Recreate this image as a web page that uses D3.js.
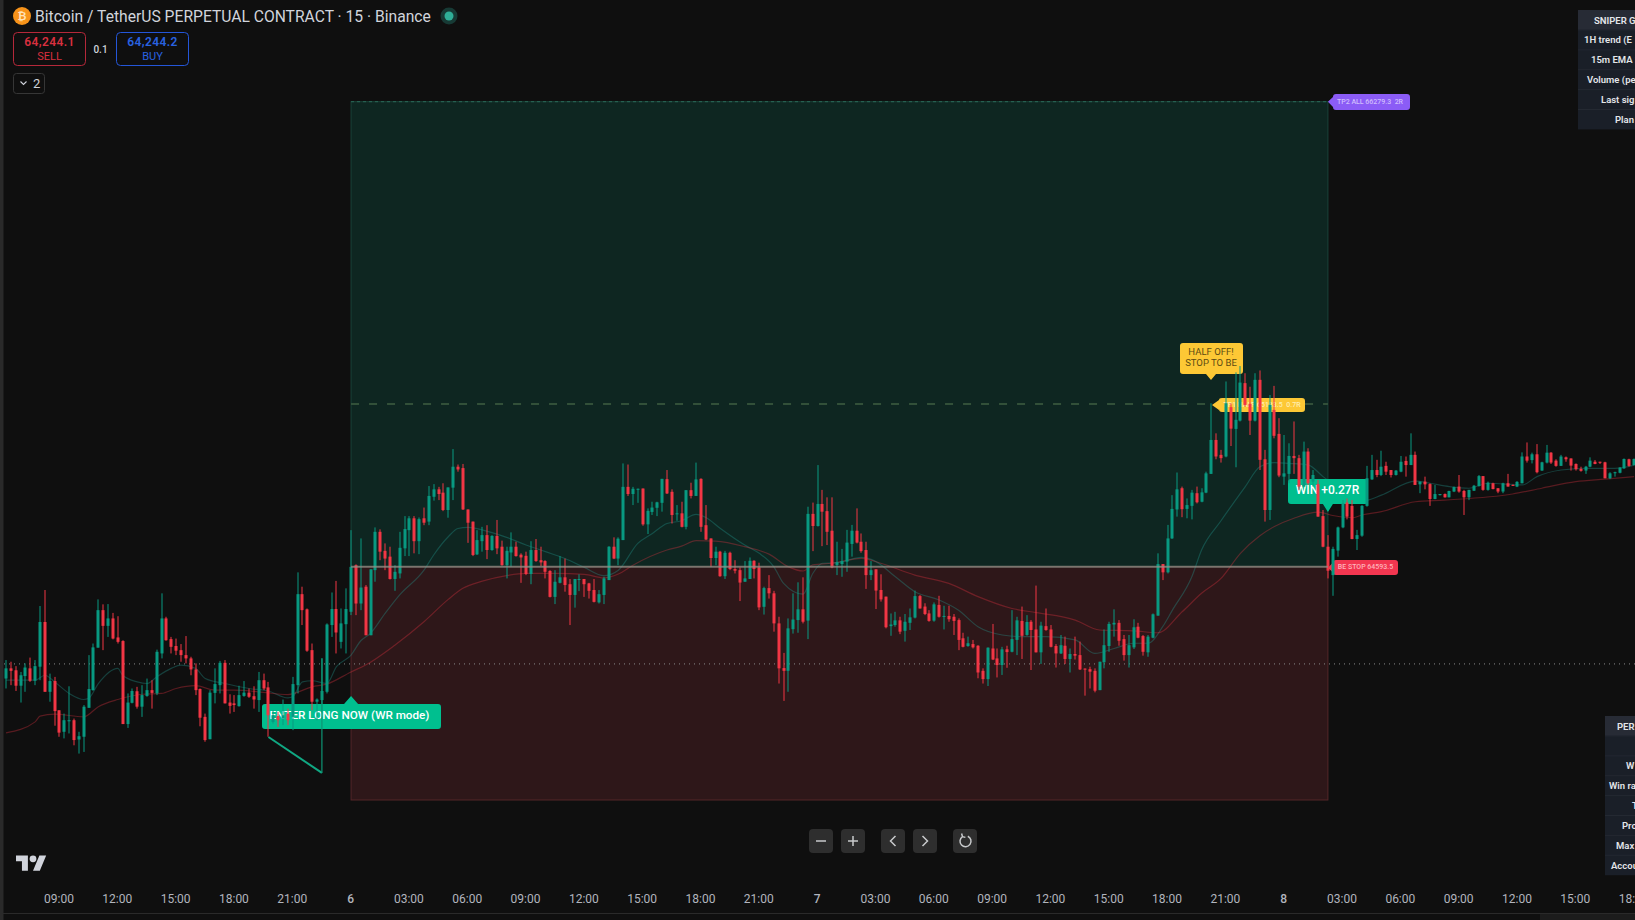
<!DOCTYPE html>
<html>
<head>
<meta charset="utf-8">
<title>BTCUSDT 15m</title>
<script src="https://cdn.jsdelivr.net/npm/d3@7"></script>
<style>
  html, body { margin: 0; padding: 0; background: #0f0f0f; overflow: hidden; }
  svg { display: block; font-family: Roboto, sans-serif; }
  text { white-space: pre; }
</style>
</head>
<body>
<div id="chart"></div>
<script>
// Candle values, one entry per 15 minute bar
var highs = [
  64255,64249,64233,64212,64243,64264,64255,64451,64509,64206,64194,64073,
  64061,64160,64043,63995,64092,64273,64315,64475,64457,64458,64426,64414,
  64327,64134,64152,64158,64164,64188,64182,64293,64497,64412,64339,64333,
  64313,64342,64267,64243,64152,64061,64146,64225,64252,64255,64131,64128,
  64162,64179,64152,64160,64212,64206,64176,64073,64067,64112,64079,64194,
  64573,64521,64442,64315,64116,64261,64388,64500,64542,64442,64515,64726,
  64602,64696,64527,64584,64736,64729,64678,64666,64599,64720,64777,64777,
  64777,64772,64808,64886,64893,64883,64896,64881,65020,64964,64966,64801,
  64757,64726,64738,64744,64708,64763,64688,64666,64718,64684,64642,64648,
  64686,64694,64666,64617,64581,64581,64632,64623,64549,64549,64566,64549,
  64535,64549,64509,64557,64668,64700,64700,64968,64964,64883,64877,64877,
  64805,64829,64829,64912,64944,64874,64817,64829,64871,64898,64971,64914,
  64817,64696,64666,64651,64651,64648,64617,64591,64614,64627,64617,64608,
  64521,64563,64506,64412,64281,64406,64497,64537,64555,64811,64826,64962,
  64872,64845,64845,64684,64658,64727,64745,64805,64714,64684,64614,64584,
  64566,64485,64424,64430,64412,64422,64442,64507,64491,64461,64436,64464,
  64488,64452,64452,64422,64406,64354,64340,64328,64309,64225,64301,64386,
  64297,64303,64307,64436,64412,64449,64418,64400,64525,64394,64442,64382,
  64313,64346,64340,64297,64340,64322,64225,64231,64225,64249,64366,64394,
  64439,64400,64346,64346,64403,64390,64346,64346,64424,64642,64603,64745,
  64853,64935,64884,64841,64872,64884,64878,64938,65186,65077,65017,65265,
  65186,65298,65321,65295,65246,65295,65305,65017,65216,65249,65132,65071,
  65041,65120,64999,65047,65023,64944,64908,64799,64708,64666,64739,64835,
  64841,64835,64727,64817,64959,64999,64981,65014,64974,64944,64944,64995,
  64993,65077,65011,64902,64920,64896,64890,64857,64859,64869,64884,64926,
  64872,64872,64890,64926,64922,64902,64898,64878,64898,64930,64892,64904,
  65008,65044,65007,65038,64974,65035,65009,64983,64999,64993,64986,64968,
  64956,64959,64990,64980,64974,64974,64936,64938,64954,64986,64985,64986
];
var lows = [
  64152,64164,64143,64101,64140,64176,64164,64182,64140,64104,64017,63977,
  63971,63989,63946,63916,63922,64082,64144,64300,64291,64339,64330,64315,
  64023,64009,64098,64079,64049,64122,64079,64128,64261,64325,64279,64273,
  64249,64243,64200,64128,64015,63959,63968,64098,64134,64098,64061,64067,
  64086,64122,64118,64079,64067,64146,63977,64025,64013,64019,64019,64001,
  64134,64382,64285,64073,64037,64073,64134,64339,64279,64297,64279,64418,
  64418,64436,64345,64345,64539,64617,64581,64547,64506,64551,64632,64632,
  64642,64639,64744,64744,64833,64835,64795,64771,64835,64938,64799,64680,
  64632,64636,64648,64621,64651,64639,64597,64551,64593,64630,64535,64563,
  64530,64611,64596,64551,64482,64458,64533,64503,64382,64445,64505,64484,
  64478,64464,64460,64458,64545,64621,64599,64690,64850,64817,64825,64742,
  64712,64781,64777,64793,64857,64750,64760,64736,64729,64841,64850,64720,
  64690,64593,64599,64557,64549,64581,64569,64469,64539,64549,64551,64436,
  64420,64478,64358,64170,64107,64140,64351,64354,64388,64331,64650,64739,
  64668,64672,64588,64563,64557,64575,64630,64678,64644,64513,64545,64440,
  64467,64370,64343,64376,64349,64322,64364,64406,64442,64418,64394,64394,
  64409,64366,64394,64346,64291,64301,64303,64297,64189,64170,64161,64255,
  64192,64201,64227,64283,64273,64259,64343,64219,64283,64241,64361,64301,
  64228,64277,64241,64210,64257,64219,64126,64152,64138,64146,64225,64285,
  64340,64307,64253,64228,64295,64334,64271,64267,64334,64416,64545,64569,
  64694,64775,64773,64769,64765,64823,64827,64860,64930,64983,64971,64990,
  65031,64954,65120,65174,65071,65120,64944,64757,64763,65059,64918,64890,
  64896,64930,64872,64884,64890,64884,64775,64664,64551,64488,64630,64733,
  64765,64693,64654,64702,64811,64908,64918,64922,64926,64917,64924,64936,
  64920,64962,64890,64860,64874,64814,64838,64852,64844,64845,64864,64862,
  64781,64835,64868,64884,64869,64869,64874,64860,64860,64884,64886,64882,
  64896,64971,64968,64932,64941,64968,64966,64956,64959,64974,64942,64942,
  64938,64930,64954,64965,64966,64914,64911,64920,64932,64948,64956,64960
];
var opens = [
  64188,64225,64218,64162,64197,64225,64180,64231,64393,64140,64179,64073,
  63995,64033,64037,63967,63977,64082,64146,64300,64436,64379,64406,64337,
  64324,64023,64100,64142,64086,64125,64146,64134,64279,64406,64331,64306,
  64291,64273,64261,64221,64150,64049,63968,64136,64164,64245,64101,64098,
  64088,64125,64137,64124,64110,64182,64156,64031,64052,64043,64061,64049,
  64164,64494,64439,64291,64104,64110,64140,64382,64440,64321,64385,64430,
  64599,64460,64521,64345,64581,64720,64651,64630,64549,64569,64660,64726,
  64769,64686,64769,64757,64847,64874,64862,64799,64880,64956,64951,64801,
  64757,64638,64686,64708,64654,64705,64666,64599,64645,64666,64637,64633,
  64567,64654,64617,64614,64578,64484,64535,64555,64530,64491,64547,64549,
  64533,64509,64464,64491,64545,64666,64623,64690,64883,64857,64875,64877,
  64747,64792,64807,64825,64911,64865,64786,64787,64738,64871,64850,64912,
  64744,64696,64625,64648,64559,64644,64585,64581,64539,64549,64615,64591,
  64448,64516,64497,64388,64226,64216,64367,64400,64439,64398,64785,64741,
  64821,64795,64724,64600,64603,64612,64676,64724,64684,64654,64563,64584,
  64509,64485,64378,64382,64399,64361,64390,64409,64487,64449,64424,64398,
  64455,64412,64415,64412,64400,64334,64306,64313,64307,64216,64186,64297,
  64261,64237,64294,64285,64328,64397,64346,64394,64366,64283,64378,64366,
  64306,64279,64307,64259,64277,64273,64224,64222,64216,64146,64247,64306,
  64384,64390,64331,64273,64301,64376,64342,64283,64336,64416,64603,64573,
  64696,64801,64878,64803,64814,64860,64829,64862,64930,65053,64999,64993,
  65172,65093,65123,65259,65184,65123,65271,64983,64799,65162,65075,64920,
  64930,64995,64987,64884,65011,64902,64893,64777,64666,64563,64652,64736,
  64826,64814,64694,64706,64814,64910,64944,64926,64959,64944,64926,64938,
  64977,64962,64999,64892,64902,64893,64839,64853,64857,64845,64866,64884,
  64868,64845,64869,64886,64922,64872,64896,64878,64866,64896,64890,64884,
  64896,64993,64980,65001,64942,64971,65007,64978,64959,64990,64986,64966,
  64948,64942,64956,64974,64974,64972,64914,64934,64934,64950,64983,64962
];
var closes = [
  64225,64216,64162,64200,64228,64180,64233,64393,64140,64179,64070,63992,
  64037,64037,63965,63979,64086,64150,64301,64436,64379,64406,64333,64321,
  64023,64101,64143,64086,64128,64146,64136,64285,64406,64327,64303,64289,
  64273,64261,64221,64146,64046,63965,64137,64168,64245,64098,64089,64092,
  64128,64137,64122,64112,64182,64152,64055,64055,64037,64055,64037,64168,
  64494,64436,64289,64104,64112,64143,64384,64440,64355,64388,64440,64593,
  64460,64518,64345,64584,64720,64648,64623,64549,64575,64662,64730,64769,
  64686,64766,64753,64850,64874,64857,64799,64881,64956,64946,64801,64753,
  64636,64690,64708,64654,64705,64660,64599,64651,64666,64632,64627,64567,
  64654,64614,64609,64575,64484,64539,64555,64527,64491,64549,64549,64530,
  64506,64466,64494,64551,64666,64623,64695,64883,64857,64876,64876,64747,
  64796,64808,64827,64912,64859,64781,64787,64738,64871,64850,64910,64738,
  64692,64625,64648,64559,64644,64585,64579,64536,64551,64615,64585,64446,
  64516,64497,64388,64225,64216,64370,64402,64439,64394,64785,64741,64821,
  64793,64720,64591,64610,64614,64681,64724,64681,64650,64563,64581,64507,
  64475,64374,64384,64399,64358,64394,64410,64487,64442,64422,64397,64457,
  64412,64415,64403,64397,64328,64303,64316,64301,64210,64186,64300,64257,
  64237,64294,64284,64331,64399,64343,64393,64364,64283,64380,64364,64303,
  64279,64309,64259,64277,64271,64221,64221,64213,64144,64249,64309,64386,
  64390,64325,64273,64309,64374,64336,64285,64340,64421,64603,64573,64696,
  64803,64874,64802,64817,64862,64827,64863,64932,65053,64993,64987,65186,
  65094,65126,65261,65180,65123,65271,64981,64799,65180,65068,64924,64932,
  64995,64987,64884,65011,64896,64926,64775,64666,64579,64658,64736,64823,
  64775,64694,64708,64814,64914,64944,64926,64956,64938,64926,64942,64974,
  64962,64999,64890,64902,64892,64839,64857,64857,64845,64868,64882,64866,
  64845,64872,64887,64922,64872,64898,64875,64866,64896,64884,64887,64901,
  64993,64978,65001,64936,64972,65007,64971,64959,64993,64983,64960,64947,
  64941,64956,64978,64966,64972,64914,64932,64936,64953,64984,64959,64984
];

// Moving averages at the bars listed
var fastBars = [0,6,8,10,13,16,17,19,23,24,27,29,31,34,36,39,41,45,50,54,58,59,61,63,66,68,71,
  73,75,78,81,86,88,91,93,95,100,103,107,111,115,119,123,126,130,133,136,139,142,144,147,152,155,158,160,
  164,166,168,171,176,179,183,187,192,196,200,205,209,214,220,224,228,232,235,238,240,244,246,250,255,258,261,264,268,271,
  280,283,290,293,297,301,305,312,315,320,325,331,335];
var fastValues = [64182,64182,64200,64176,64134,64112,64116,64170,64225,64200,64176,64170,64194,64225,64237,64225,64188,64170,64152,64143,64118,64122,64176,64180,64170,64231,64273,
  64325,64352,64424,64491,64581,64636,64702,64732,64736,64717,64700,64672,64648,64623,64591,64561,64581,64678,64714,64750,64760,64783,64772,64732,64672,64642,64593,64533,
  64494,64569,64606,64608,64627,64612,64557,64503,64473,64436,64376,64346,64340,64340,64328,64279,64297,64316,64316,64376,64436,64557,64654,64760,64884,64956,64971,64968,64962,64920,
  64835,64853,64904,64896,64884,64878,64896,64890,64920,64944,64950,64950,64962];
var slowBars = [0,6,7,10,16,19,23,28,32,35,39,43,47,52,58,63,66,71,74,80,86,91,
  94,98,103,107,113,119,123,126,129,136,139,142,146,152,157,161,
  164,166,170,176,180,187,194,200,207,212,220,225,232,237,242,
  246,250,254,258,261,265,270,273,277,279,283,290,296,310,316,323,329,335];
var slowValues = [63991,64031,64052,64059,64049,64086,64112,64131,64134,64152,64162,64146,64146,64140,64130,64158,64168,64212,64237,64309,64394,64475,
  64515,64541,64561,64569,64569,64566,64553,64567,64599,64654,64668,64688,64686,64666,64639,64593,
  64578,64600,64606,64624,64606,64563,64533,64485,64442,64427,64400,64364,64361,64354,64430,
  64497,64551,64642,64706,64739,64769,64791,64779,64771,64781,64793,64829,64835,64857,64878,64902,64911,64920];

// The entry swing drawn under the signal
var swingBars = [54, 65, 65];
var swingPrices = [63976, 63846, 64262];

// Trade levels
var tp2Price = 66279.3;
var tp1Price = 65183.5;
var entryPrice = 64593.5;
var stopPrice = 63747.7;
var lastPrice = 64241;
var entryBar = 71;
var exitBar = 272;

// Time axis
var tickBars = [11,23,35,47,59,71,83,95,107,119,131,143,155,167,179,191,203,215,227,239,251,263,275,287,299,311,323,335];
var tickLabels = ["09:00","12:00","15:00","18:00","21:00","6","03:00","06:00","09:00","12:00","15:00","18:00","21:00","7",
  "03:00","06:00","09:00","12:00","15:00","18:00","21:00","8","03:00","06:00","09:00","12:00","15:00","18:00"];

// Tables cut off by the right edge of the window
var topTableRows = [["SNIPER G",1594],["1H trend (E",1584],["15m EMA 2",1591],["Volume (pe",1587],["Last sig",1601],["Plan",1615]];
var perfTableRows = [["PER",1617],["",0],["W",1626],["Win ra",1609],["T",1632],["Pro",1622],["Max",1616],["Accou",1611]];

// Define SVG area dimensions
var svgWidth = 1635;
var svgHeight = 920;

var svg = d3.select("#chart")
  .append("svg")
  .attr("width", svgWidth)
  .attr("height", svgHeight);

svg.append("rect").attr("width", svgWidth).attr("height", svgHeight).attr("fill", "#0f0f0f");

var bars = d3.range(highs.length);

// One bar every 4.86 px, price scale pinned on the two drawn levels
var xScale = d3.scaleLinear().domain([0, 335]).range([6, 6 + 335 * 4.86]);
var yScale = d3.scaleLinear().domain([stopPrice, tp2Price]).range([800, 101.7]);

var upColor = "#089981";
var downColor = "#f23645";

// Trade box
var boxX0 = xScale(entryBar), boxX1 = xScale(exitBar);
var boxGroup = svg.append("g");
boxGroup.append("rect")
  .attr("x", boxX0).attr("y", yScale(tp2Price))
  .attr("width", boxX1 - boxX0).attr("height", yScale(entryPrice) - yScale(tp2Price))
  .attr("fill", "#0e2621").attr("stroke", "#1a4339");
boxGroup.append("rect")
  .attr("x", boxX0).attr("y", yScale(entryPrice))
  .attr("width", boxX1 - boxX0).attr("height", yScale(stopPrice) - yScale(entryPrice))
  .attr("fill", "#2e1719").attr("stroke", "#552629");
boxGroup.append("line")
  .attr("x1", boxX0).attr("x2", boxX1).attr("y1", yScale(tp2Price)).attr("y2", yScale(tp2Price))
  .attr("stroke", "#2a6a59").attr("stroke-dasharray", "3,3");
boxGroup.append("line")
  .attr("x1", boxX0).attr("x2", boxX1).attr("y1", yScale(tp1Price)).attr("y2", yScale(tp1Price))
  .attr("stroke", "#3f5f42").attr("stroke-width", 1.5).attr("stroke-dasharray", "8,10");

// Last price line
svg.append("line")
  .attr("x1", 4).attr("x2", svgWidth).attr("y1", yScale(lastPrice)).attr("y2", yScale(lastPrice))
  .attr("stroke", "#8a8a8a").attr("stroke-dasharray", "1,4");

// Moving averages
var line = d3.line().curve(d3.curveMonotoneX)
  .x(function(d) { return xScale(d[0]); })
  .y(function(d) { return yScale(d[1]); });
svg.append("path").datum(d3.zip(fastBars, fastValues)).attr("d", line)
  .attr("fill", "none").attr("stroke", "rgba(38,166,154,0.32)").attr("stroke-width", 1.2);
svg.append("path").datum(d3.zip(slowBars, slowValues)).attr("d", line)
  .attr("fill", "none").attr("stroke", "rgba(242,54,69,0.32)").attr("stroke-width", 1.2);

// Draw a rounded label with a little pointer
function tag(x0, y0, x1, y1, tipX, tipY, side, color) {
  var r = 3, s = 5, p = d3.path();
  p.moveTo(x0 + r, y0);
  if (side == "top") { p.lineTo(tipX - s - 2, y0); p.lineTo(tipX, tipY); p.lineTo(tipX + s + 2, y0); }
  p.lineTo(x1 - r, y0);
  p.quadraticCurveTo(x1, y0, x1, y0 + r);
  p.lineTo(x1, y1 - r);
  p.quadraticCurveTo(x1, y1, x1 - r, y1);
  if (side == "bottom") { p.lineTo(tipX + s, y1); p.lineTo(tipX, tipY); p.lineTo(tipX - s, y1); }
  p.lineTo(x0 + r, y1);
  p.quadraticCurveTo(x0, y1, x0, y1 - r);
  if (side == "left") { p.lineTo(x0, (y0 + y1) / 2 + 5); p.lineTo(tipX, tipY); p.lineTo(x0, (y0 + y1) / 2 - 5); }
  else { p.lineTo(x0, y0 + r); }
  p.quadraticCurveTo(x0, y0, x0 + r, y0);
  p.closePath();
  labelGroup.append("path").attr("d", p.toString()).attr("fill", color);
}

function tagText(x, y, text, size, color, weight) {
  labelGroup.append("text")
    .attr("x", x).attr("y", y)
    .attr("text-anchor", "middle").attr("dominant-baseline", "central")
    .attr("font-size", size).attr("font-weight", weight || 400).attr("fill", color)
    .text(text);
}

var labelGroup = svg.append("g");

tag(1333, 94, 1410, 110, boxX1, yScale(tp2Price), "left", "#8b5cf6");
tagText(1370, 101.5, "TP2 ALL 66279.3  2R", 7, "#d0bdfd", 500);

tag(1180, 343, 1243, 374, 1211, 380, "bottom", "#fdc835");
tagText(1211, 351, "HALF OFF!", 9.5, "#5c4a12");
tagText(1211, 362, "STOP TO BE", 9.5, "#5c4a12");

tag(1219, 398, 1305, 412, 1212, yScale(tp1Price) + 1, "left", "#fdc835");
tagText(1262, 404.5, "TP1 HALF 65183.5  0.7R", 7, "#ffeeb0", 500);

tag(262, 704, 441, 729, xScale(entryBar), 696, "top", "#00bf8f");
tagText(349.5, 715, "ENTER LONG NOW (WR mode)", 11.7, "#ffffff", 500);

tag(1288, 479, 1368, 504, boxX1, 512, "bottom", "#00bf8f");
tagText(1327.5, 489.5, "WIN +0.27R", 12, "#ffffff", 500);

tag(1333, 560, 1398, 575, boxX1, yScale(entryPrice) + 1, "left", "#f23650");
tagText(1365.5, 567, "BE STOP 64593.5", 7, "#ffb3bb", 500);

// Candles
var candles = svg.append("g").selectAll("g")
  .data(bars)
  .enter()
  .append("g")
  .attr("fill", function(i) { return closes[i] >= opens[i] ? upColor : downColor; });

candles.append("rect")
  .attr("x", function(i) { return Math.round(xScale(i)) - 0.5; })
  .attr("width", 1)
  .attr("y", function(i) { return yScale(highs[i]); })
  .attr("height", function(i) { return yScale(lows[i]) - yScale(highs[i]); });

candles.append("rect")
  .attr("x", function(i) { return Math.round(xScale(i)) - 1.5; })
  .attr("width", 3)
  .attr("y", function(i) { return yScale(Math.max(opens[i], closes[i])); })
  .attr("height", function(i) { return Math.max(1, Math.abs(yScale(opens[i]) - yScale(closes[i]))); });

// Entry swing
var swing = d3.zip(swingBars, swingPrices);
var straight = d3.line()
  .x(function(d) { return xScale(d[0]); })
  .y(function(d) { return yScale(d[1]); });
svg.append("path").datum(swing.slice(0, 2)).attr("d", straight)
  .attr("fill", "none").attr("stroke", "#10a883").attr("stroke-width", 2);
svg.append("path").datum(swing.slice(1)).attr("d", straight)
  .attr("fill", "none").attr("stroke", "#0d9474").attr("stroke-width", 1.2);

// Entry line sits above the box and the candles
svg.append("line")
  .attr("x1", boxX0).attr("x2", boxX1).attr("y1", yScale(entryPrice)).attr("y2", yScale(entryPrice))
  .attr("stroke", "#8f948a").attr("stroke-width", 2).attr("opacity", 0.72);

// Time axis
var xAxis = d3.axisBottom(xScale)
  .tickValues(tickBars)
  .tickFormat(function(d, i) { return tickLabels[i]; })
  .tickSize(0)
  .tickPadding(0);
var axisGroup = svg.append("g")
  .attr("transform", "translate(-1, 894)")
  .call(xAxis);
axisGroup.select(".domain").remove();
axisGroup.selectAll("text")
  .attr("font-family", "Roboto, sans-serif")
  .attr("font-size", 12)
  .attr("fill", "#b2b5be")
  .attr("font-weight", function(d, i) { return tickLabels[i].length == 1 ? 500 : 400; });

svg.append("line").attr("x1", 0).attr("x2", svgWidth).attr("y1", 913.5).attr("y2", 913.5).attr("stroke", "#2a2a2a");
svg.append("rect").attr("x", 1540).attr("y", 914).attr("width", 95).attr("height", 6).attr("fill", "#1c1c1c");

// Left edge strip
svg.append("rect").attr("width", 3.5).attr("height", svgHeight).attr("fill", "#2a2a2a");

// Header
var header = svg.append("g");
header.append("circle").attr("cx", 22).attr("cy", 16).attr("r", 9).attr("fill", "#f7931a");
header.append("text").attr("x", 22).attr("y", 20).attr("text-anchor", "middle")
  .attr("font-size", 11).attr("font-weight", 700).attr("fill", "#ffe2b8").text("₿");
header.append("text").attr("x", 35).attr("y", 21.5)
  .attr("font-size", 15.65).attr("fill", "#d1d4dc")
  .text("Bitcoin / TetherUS PERPETUAL CONTRACT · 15 · Binance");
header.append("circle").attr("cx", 449).attr("cy", 16).attr("r", 8.5).attr("fill", "#173a35");
header.append("circle").attr("cx", 449).attr("cy", 16).attr("r", 4.5).attr("fill", "#2fae97");

// Sell and buy boxes
function priceBox(x, color, textColor, price, side) {
  header.append("rect").attr("x", x + 0.5).attr("y", 32.5).attr("width", 72).attr("height", 33).attr("rx", 4)
    .attr("fill", "none").attr("stroke", color);
  header.append("text").attr("x", x + 36.5).attr("y", 46).attr("text-anchor", "middle")
    .attr("font-size", 12).attr("font-weight", 600).attr("letter-spacing", 0.4).attr("fill", textColor).text(price);
  header.append("text").attr("x", x + 36.5).attr("y", 60).attr("text-anchor", "middle")
    .attr("font-size", 11).attr("fill", textColor).text(side);
}
priceBox(13, "#b5283a", "#d8303f", "64,244.1", "SELL");
priceBox(116, "#2456d8", "#2962e0", "64,244.2", "BUY");
header.append("text").attr("x", 100.5).attr("y", 52.5).attr("text-anchor", "middle")
  .attr("font-size", 10).attr("font-weight", 500).attr("fill", "#d1d4dc").text("0.1");
header.append("rect").attr("x", 13.5).attr("y", 73.5).attr("width", 31).attr("height", 20).attr("rx", 3)
  .attr("fill", "none").attr("stroke", "#363636");
header.append("path").attr("d", "M20.5 81.5l3 3 3-3").attr("fill", "none").attr("stroke", "#d1d4dc").attr("stroke-width", 1.1);
header.append("text").attr("x", 33).attr("y", 88).attr("font-size", 13).attr("fill", "#d1d4dc").text("2");

// Tables
function table(rows, x, y0) {
  rows.forEach(function(row, i) {
    svg.append("rect").attr("x", x).attr("y", y0 + i * 19.9).attr("width", svgWidth - x).attr("height", 19.9)
      .attr("fill", i == 0 ? "#272b35" : "#1a1f28");
    if (i > 0) {
      svg.append("line").attr("x1", x).attr("x2", svgWidth).attr("y1", y0 + i * 19.9).attr("y2", y0 + i * 19.9)
        .attr("stroke", "#242932");
    }
    svg.append("text").attr("x", row[1]).attr("y", y0 + i * 19.9 + 13.5)
      .attr("font-size", 9.5).attr("font-weight", 600).attr("fill", "#e4e6ea").text(row[0]);
  });
}
table(topTableRows, 1578, 10);
table(perfTableRows, 1605, 716);

// Chart buttons
var buttonX = [809, 841, 881, 913, 953];
var buttonIcons = [
  "M-5 0H5",
  "M-5 0H5M0 -5V5",
  "M2.5 -5L-2.5 0L2.5 5",
  "M-2.5 -5L2.5 0L-2.5 5",
  "M-2.5 -4.4A5.5 5.5 0 1 0 2.8 -4.8M-3.4 -7.5L-2.5 -4.4L0.4 -3.6"
];
buttonX.forEach(function(x, i) {
  svg.append("rect").attr("x", x).attr("y", 829).attr("width", 24).attr("height", 24).attr("rx", 4).attr("fill", "#2e2e2e");
  svg.append("path").attr("transform", "translate(" + (x + 12) + ",841)").attr("d", buttonIcons[i])
    .attr("fill", "none").attr("stroke", "#c8cacc").attr("stroke-width", 1.5);
});

// TradingView mark
var logo = svg.append("g").attr("transform", "translate(16,852) scale(0.85)").attr("fill", "#d1d4dc");
logo.append("path").attr("d", "M14 22H7V11H0V4h14v18zM28 22h-8l7.5-18h8L28 22z");
logo.append("circle").attr("cx", 20).attr("cy", 8).attr("r", 4);
</script>
</body>
</html>
